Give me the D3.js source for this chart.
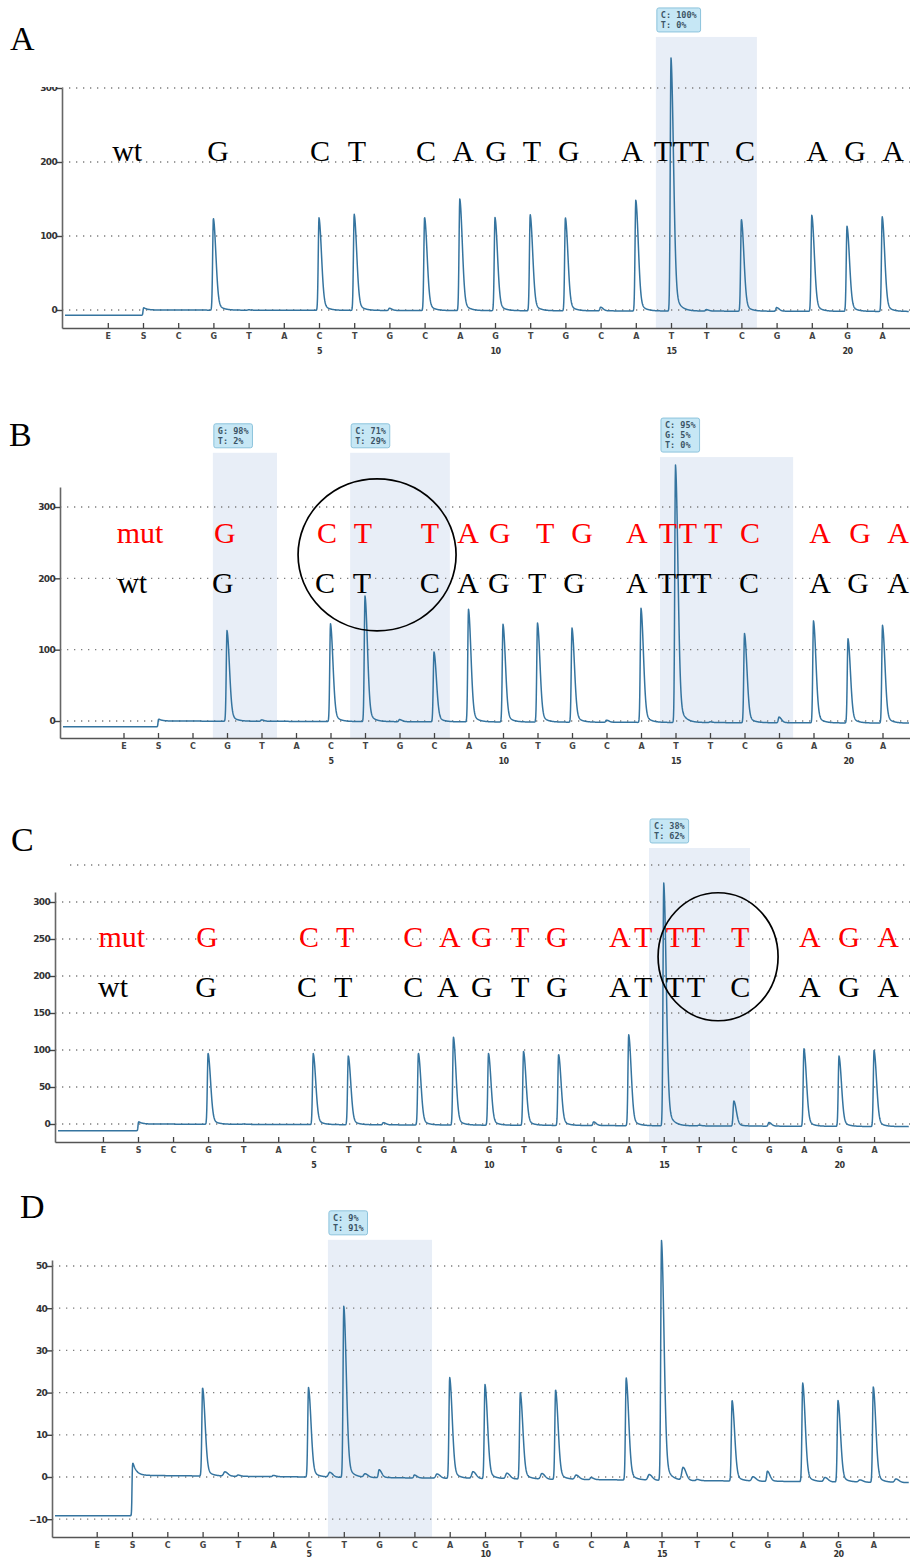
<!DOCTYPE html>
<html><head><meta charset="utf-8">
<script src="https://cdn.jsdelivr.net/npm/d3@7"></script>
<style>body{margin:0;background:#fff} svg{display:block}</style>
</head><body><svg id="chart" width="910" height="1560"></svg>
<script>
// ---------------- DATA ----------------
// dispensation order, index -1 (E) .. 21
const dispensation = ["E","S","C","G","T","A","C","T","G","C","A","G","T","G","C","A","T","T","C","G","A","G","A"];
const cycleNumbers = [5,10,15,20];

const ticksA = [0,100,200,300];
const ticksB = [0,100,200,300];
const ticksC = [0,50,100,150,200,250,300,350];
const ticksD = [-10,0,10,20,30,40,50];

// peak heights for dispensations 1..21
const peaksA = [0,124,0.5,0,125,130,3,126,151,126,130,126,5,150,342,2,124,5,130,115,128];
const peaksB = [0,127,2,0,137,176,3,98,158,137,139,132,3,160,361,1,125,8,143,118,137];
const peaksC = [0,96,0.5,0,96,93,3,97,119,97,100,96,5,123,328,1,34,5,105,95,103];
const peaksD = [0,20.9,0.3,0.3,21.2,40.6,1.9,0.7,23.9,22.3,20.5,21.2,0.5,24.2,56.8,0.3,19.1,2.4,23.4,19.3,22.6];
const minorBumpsD = [[2.63,1.0],[5.6,1.1],[6.6,0.8],[8.64,1.0],[9.66,1.6],[10.62,1.3],[11.61,1.3],[12.58,1.0],[14.65,1.3],[15.61,3.0],[17.59,1.0],[19.63,1.0],[20.62,0.5],[21.64,0.8]];

// baseline: [before start, start spike, level after start, level at end]
const baselineA = [-7, 4, 0, -2];
const baselineB = [-8, 3.5, 0, -3];
const baselineC = [-9, 4, 0, -3.5];
const baselineD = [-9.2, 4.3, 0.4, -1.3];

// highlighted regions: [from, to, top value]
const highlightsA = [[14.57,17.44,369]];
const highlightsB = [[1.59,3.45,376],[5.57,8.46,376],[14.55,18.41,370]];
const highlightsC = [[14.58,17.46,373]];
const highlightsD = [[5.55,8.5,56.2]];

const boxLinesA = [["C: 100%","T: 0%"]];
const boxLinesB = [["G: 98%","T: 2%"],["C: 71%","T: 29%"],["C: 95%","G: 5%","T: 0%"]];
const boxLinesC = [["C: 38%","T: 62%"]];
const boxLinesD = [["C: 9%","T: 91%"]];

// sequence annotations
const wtLettersA = ["wt","G","C","T","C","A","G","T","G","A","T","T","T","C","A","G","A"];
const wtPosA = [-0.45,2.13,5.03,6.08,8.04,9.09,10.03,11.05,12.10,13.89,14.77,15.31,15.82,17.10,19.15,20.23,21.31];

const mutLettersB = ["mut","G","C","T","T","A","G","T","G","A","T","T","T","C","A","G","A"];
const mutPosB = [-0.52,1.94,4.90,5.94,7.88,8.99,9.91,11.22,12.29,13.88,14.78,15.36,16.09,17.16,19.19,20.35,21.45];
const wtLettersB = ["wt","G","C","T","C","A","G","T","G","A","T","T","T","C","A","G","A"];
const wtPosB = [-0.75,1.88,4.84,5.91,7.88,8.99,9.88,10.99,12.06,13.88,14.75,15.28,15.77,17.13,19.19,20.29,21.45];

const mutLettersC = ["mut","G","C","T","C","A","G","T","G","A","T","T","T","T","A","G","A"];
const mutPosC = [-0.46,1.97,4.88,5.91,7.85,8.90,9.81,10.90,11.95,13.75,14.41,15.32,15.92,17.18,19.17,20.29,21.40];
const wtLettersC = ["wt","G","C","T","C","A","G","T","G","A","T","T","T","C","A","G","A"];
const wtPosC = [-0.71,1.94,4.82,5.85,7.85,8.84,9.81,10.90,11.95,13.75,14.41,15.32,15.92,17.18,19.17,20.29,21.40];

// ---------------- LAYOUT ----------------
const panels = [
  {label:"A", lx:10, ly:50, axisX:62, sPx:143, step:35.2, zeroPx:310, refVal:300, refPx:88, bottomPx:328, topPx:88,
   ticks:ticksA, peaks:peaksA, base:baselineA, bumps:[], hl:highlightsA, boxes:boxLinesA, numPad:20,
   rows:[{l:wtLettersA,p:wtPosA,v:201,c:"#000"}], ell:null, clipTop:87},
  {label:"B", lx:9, ly:446, axisX:60, sPx:158, step:34.5, zeroPx:721, refVal:300, refPx:507, bottomPx:738, topPx:487,
   ticks:ticksB, peaks:peaksB, base:baselineB, bumps:[], hl:highlightsB, boxes:boxLinesB, numPad:20,
   rows:[{l:mutLettersB,p:mutPosB,v:249,c:"#ff0000"},{l:wtLettersB,p:wtPosB,v:179,c:"#000"}],
   ell:{u:6.35,v:233,rx:79,ry:76}},
  {label:"C", lx:11, ly:851, axisX:55, sPx:138, step:35.05, zeroPx:1124, refVal:300, refPx:902, bottomPx:1142, topPx:892,
   ticks:ticksC, peaks:peaksC, base:baselineC, bumps:[], hl:highlightsC, boxes:boxLinesC, numPad:20,
   rows:[{l:mutLettersC,p:mutPosC,v:239,c:"#ff0000"},{l:wtLettersC,p:wtPosC,v:172,c:"#000"}],
   ell:{u:16.55,v:226,rx:60,ry:64}},
  {label:"D", lx:20, ly:1218, axisX:52, sPx:132, step:35.3, zeroPx:1477, refVal:50, refPx:1266, bottomPx:1537, topPx:1260,
   ticks:ticksD, peaks:peaksD, base:baselineD, bumps:minorBumpsD, hl:highlightsD, boxes:boxLinesD, numPad:14,
   rows:[], ell:null}
];

const svg = d3.select("#chart");
const RIGHT = 910;
const traceColor = "#35749f";

function peakShape(d){
  if (d < 0) return Math.exp(-Math.pow(d/0.03,2));
  return 0.85*Math.exp(-Math.pow(d/0.1,2)) + 0.15*Math.exp(-d/0.143);
}
function bumpShape(d){
  if (d < 0) return Math.exp(-Math.pow(d/0.05,2));
  return Math.exp(-Math.pow(d/0.12,2));
}

panels.forEach((P, pi) => {
  const g = svg.append("g");
  const x0 = d3.scaleLinear().domain([0,1]).range([P.sPx, P.sPx+P.step]);
  const x = d3.scaleLinear().domain([x0.invert(P.axisX), x0.invert(RIGHT)]).range([P.axisX, RIGHT]);
  const y0 = d3.scaleLinear().domain([0,P.refVal]).range([P.zeroPx, P.refPx]);
  const y = d3.scaleLinear().domain([y0.invert(P.bottomPx), y0.invert(P.topPx)]).range([P.bottomPx, P.topPx]);

  // panel label
  svg.append("text").attr("x",P.lx).attr("y",P.ly)
    .attr("font-family","'Liberation Serif','Times New Roman',serif").attr("font-size",34).attr("fill","#000")
    .text(P.label);

  // highlights
  P.hl.forEach((h, hi) => {
    const xl = x(h[0]), xr = x(h[1]), yt = y0(h[2]);
    g.append("rect").attr("x",xl).attr("y",yt).attr("width",xr-xl).attr("height",P.bottomPx-yt)
      .attr("fill","#e8eef7");
    const lines = P.boxes[hi];
    const maxLen = d3.max(lines, s => s.length);
    const bw = maxLen*5.1 + 8, bh = lines.length*10 + 4;
    const bx = xl + 1, by = yt - 5 - bh;
    g.append("rect").attr("x",bx).attr("y",by).attr("width",bw).attr("height",bh).attr("rx",2)
      .attr("fill","#c6e7f5").attr("stroke","#8cc3dc").attr("stroke-width",1);
    lines.forEach((s, li) => {
      g.append("text").attr("x",bx+4).attr("y",by+10+li*10)
        .attr("font-family","'DejaVu Sans Mono',monospace").attr("font-size",8.5).attr("font-weight","bold")
        .attr("fill","#3c5566").text(s);
    });
  });

  // gridlines
  P.ticks.forEach(t => {
    const yy = y0(t);
    const inside = yy >= P.topPx - 0.5;
    g.append("line").attr("x1", inside ? P.axisX : P.axisX+15).attr("x2",RIGHT)
      .attr("y1",yy).attr("y2",yy)
      .attr("stroke","#7d7d7d").attr("stroke-width",1.3).attr("stroke-dasharray","1.3,5.7");
  });

  // y axis
  const yTicks = P.ticks.filter(t => y0(t) >= P.topPx - 0.5);
  const ya = g.append("g").attr("transform",`translate(${P.axisX},0)`)
    .call(d3.axisLeft(y).tickValues(yTicks).tickSize(5).tickSizeOuter(0).tickPadding(0));
  ya.select(".domain").attr("stroke","#666").attr("stroke-width",1.6);
  ya.selectAll(".tick line").attr("stroke","#444").attr("stroke-width",1.4);
  ya.selectAll(".tick text").attr("font-family","'DejaVu Sans',sans-serif").attr("font-size",9)
    .attr("font-weight","bold").attr("letter-spacing","-0.7").attr("fill","#333");
  if (P.clipTop) {
    const cid = "clip"+pi;
    svg.append("clipPath").attr("id",cid).append("rect")
      .attr("x",-100).attr("y",P.clipTop).attr("width",200).attr("height",400);
    ya.attr("clip-path",`url(#${cid})`);
  }

  // x axis (dispensation letters)
  const xa = g.append("g").attr("transform",`translate(0,${P.bottomPx})`)
    .call(d3.axisBottom(x).tickValues(d3.range(-1,22)).tickFormat(i => dispensation[i+1])
      .tickSize(-5).tickSizeOuter(0).tickPadding(5));
  xa.select(".domain").attr("stroke","#555").attr("stroke-width",1.6);
  xa.selectAll(".tick line").attr("stroke","#444").attr("stroke-width",1.3);
  xa.selectAll(".tick text").attr("font-family","'DejaVu Sans',sans-serif").attr("font-size",8)
    .attr("font-weight","bold").attr("fill","#444");
  const xn = g.append("g").attr("transform",`translate(0,${P.bottomPx})`)
    .call(d3.axisBottom(x).tickValues(cycleNumbers).tickFormat(d3.format("d")).tickSize(0).tickPadding(P.numPad));
  xn.select(".domain").remove();
  xn.selectAll(".tick text").attr("font-family","'DejaVu Sans',sans-serif").attr("font-size",8)
    .attr("font-weight","bold").attr("letter-spacing","-0.5").attr("fill","#333");

  // trace
  const b = P.base;
  const uStart = x.invert(P.axisX+3), uEnd = x.invert(RIGHT-1);
  const du = 0.25 / P.step;
  const pts = [];
  for (let u = uStart; u <= uEnd; u += du) {
    const sig = 1/(1+Math.exp(-u/0.006));
    const uu = Math.max(u,0);
    let v = b[0]*(1-sig) + sig*(b[2] + (b[3]-b[2])*uu/21.6 + (b[1]-b[2])*Math.exp(-uu/0.1));
    P.peaks.forEach((h, i) => { const d = u-(i+1); if (d > -0.3 && d < 1.2) v += h*peakShape(d); });
    P.bumps.forEach(bp => { const d = u-bp[0]; if (d > -0.4 && d < 0.6) v += bp[1]*bumpShape(d); });
    pts.push([u, v]);
  }
  g.append("path").datum(pts)
    .attr("d", d3.line().x(d => x(d[0])).y(d => y(d[1])))
    .attr("fill","none").attr("stroke",traceColor).attr("stroke-width",1.5).attr("stroke-linejoin","round");

  // sequence annotation rows
  P.rows.forEach(r => {
    r.l.forEach((s, i) => {
      g.append("text").attr("x",x(r.p[i])).attr("y",y0(r.v)).attr("text-anchor","middle")
        .attr("font-family","'Liberation Serif','Times New Roman',serif").attr("font-size",30)
        .attr("fill",r.c).text(s);
    });
  });

  // circle
  if (P.ell) {
    g.append("ellipse").attr("cx",x(P.ell.u)).attr("cy",y0(P.ell.v)).attr("rx",P.ell.rx).attr("ry",P.ell.ry)
      .attr("fill","none").attr("stroke","#000").attr("stroke-width",1.7);
  }
});
</script>
</body></html>
